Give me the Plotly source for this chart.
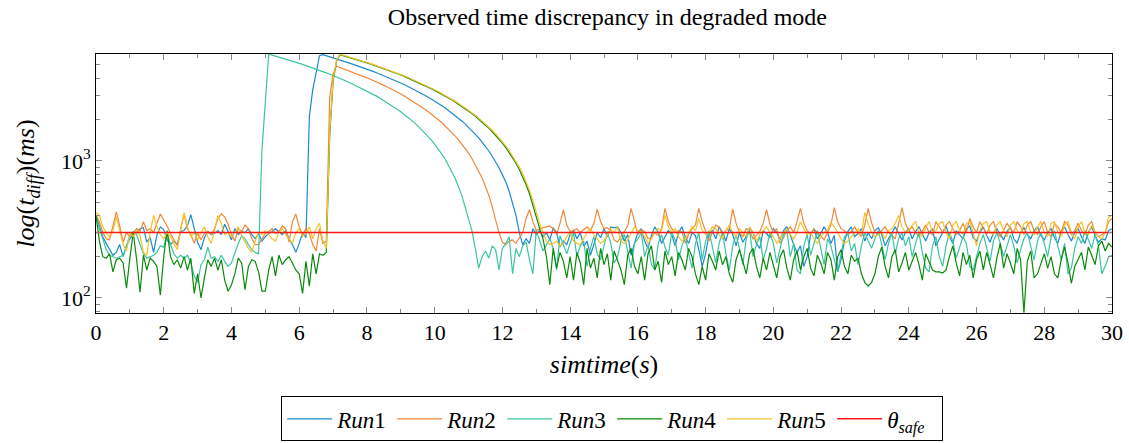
import plotly.graph_objects as go

time_s = [round(i * 0.1, 1) for i in range(301)]

run1 = [
    400, 330, 280, 250, 225, 205, 215, 245, 200, 240,
    270, 290, 300, 320, 325, 255, 275, 215, 290, 330,
    315, 265, 245, 260, 245, 305, 310, 335, 405, 315,
    255, 225, 275, 305, 290, 295, 310, 290, 345, 305,
    265, 320, 290, 305, 300, 320, 290, 270, 295, 260,
    280, 295, 305, 320, 305, 290, 310, 270, 245, 215,
    250, 300, 275, 2100, 3300, 4400, 5850, 5950, 5850, 5750,
    5650, 5550, 5450, 5350, 5250, 5150, 5050, 4950, 4860, 4760,
    4660, 4560, 4470, 4370, 4270, 4180, 4080, 3980, 3890, 3790,
    3690, 3600, 3500, 3400, 3310, 3210, 3110, 3020, 2920, 2820,
    2730, 2630, 2530, 2440, 2340, 2240, 2150, 2050, 1950, 1860,
    1760, 1660, 1570, 1470, 1370, 1280, 1180, 1080, 990, 890,
    790, 700, 600, 490, 400, 300, 245, 270, 250, 320,
    290, 310, 280, 300, 265, 325, 300, 235, 260, 245,
    290, 310, 270, 300, 240, 260, 205, 245, 300, 275,
    320, 280, 330, 325, 330, 300, 260, 290, 205, 250,
    300, 320, 260, 230, 285, 330, 300, 250, 280, 310,
    290, 240, 300, 330, 280, 250, 300, 285, 225, 170,
    210, 290, 310, 270, 330, 300, 260, 320, 290, 240,
    300, 255, 280, 325, 300, 250, 230, 310, 295, 275,
    320, 300, 265, 310, 330, 290, 245, 215, 240, 170,
    200, 290, 320, 270, 295, 330, 300, 250, 285, 155,
    190, 260, 305, 330, 280, 295, 320, 260, 300, 270,
    310, 325, 290, 240, 270, 300, 330, 295, 265, 300,
    320, 270, 305, 330, 290, 260, 300, 320, 240, 270,
    300, 335, 280, 250, 310, 290, 270, 320, 335, 275,
    260, 300, 330, 285, 255, 300, 320, 290, 265, 305,
    330, 270, 250, 300, 325, 290, 270, 310, 330, 285,
    265, 300, 320, 275, 250, 305, 330, 290, 260, 300,
    320, 280, 250, 300, 330, 285, 255, 270, 265, 310,
    320,
]

run2 = [
    405, 360, 300, 270, 265, 335, 425, 335, 255, 300,
    280, 300, 320, 305, 360, 310, 320, 300, 345, 410,
    370, 335, 295, 265, 240, 320, 410, 320, 290, 250,
    300, 265, 295, 305, 290, 320, 380, 410, 390, 345,
    290, 260, 320, 305, 340, 320, 270, 245, 245, 270,
    295, 305, 320, 295, 305, 335, 320, 255, 360, 410,
    330, 290, 320, 295, 245, 220, 320, 250, 260, 2900,
    4300, 4900, 4800, 4710, 4610, 4510, 4420, 4320, 4220, 4130,
    4030, 3930, 3840, 3740, 3650, 3550, 3450, 3360, 3260, 3160,
    3070, 2970, 2870, 2780, 2680, 2580, 2490, 2390, 2290, 2200,
    2100, 2000, 1910, 1810, 1720, 1620, 1520, 1430, 1330, 1230,
    1140, 1040, 940, 850, 750, 650, 560, 460, 370, 300,
    255, 245, 260, 265, 250, 275, 300, 380, 440, 360,
    310, 320, 325, 330, 335, 320, 290, 350, 440, 340,
    305, 310, 320, 300, 315, 330, 310, 350, 445, 360,
    320, 325, 310, 265, 255, 280, 310, 335, 450, 360,
    290, 315, 305, 270, 275, 300, 285, 320, 450, 360,
    320, 300, 310, 305, 250, 290, 320, 340, 450, 360,
    310, 260, 300, 340, 330, 290, 310, 320, 445, 350,
    300, 280, 320, 310, 270, 285, 305, 350, 440, 345,
    300, 320, 250, 275, 310, 330, 300, 360, 450, 350,
    310, 290, 320, 300, 285, 265, 300, 340, 455, 360,
    320, 310, 290, 305, 330, 300, 280, 340, 450, 355,
    300, 290, 310, 330, 300, 285, 270, 350, 455, 350,
    310, 330, 300, 280, 310, 340, 300, 290, 360, 330,
    300, 340, 360, 320, 290, 310, 350, 300, 380, 330,
    300, 360, 320, 290, 340, 360, 300, 280, 310, 350,
    320, 300, 360, 330, 290, 340, 360, 310, 290, 330,
    360, 300, 280, 350, 330, 300, 360, 340, 290, 310,
    350, 310, 290, 340, 360, 300, 280, 290, 300, 360,
    380,
]

run3 = [
    400, 320, 270, 225, 205, 200, 195, 200, 205, 240,
    290, 305, 290, 245, 210, 195, 200, 205, 215, 240,
    235, 300, 245, 210, 195, 205, 195, 205, 180, 145,
    130, 175, 190, 235, 195, 200, 185, 205, 185, 170,
    180, 215, 250, 285, 270, 245, 225, 215, 210, 1200,
    2900, 6000, 5905, 5810, 5710, 5620, 5520, 5430, 5330, 5240,
    5140, 5050, 4950, 4860, 4760, 4660, 4570, 4470, 4380, 4280,
    4190, 4090, 4000, 3900, 3800, 3710, 3610, 3520, 3420, 3330,
    3230, 3140, 3040, 2950, 2850, 2750, 2660, 2560, 2470, 2370,
    2280, 2180, 2090, 1990, 1900, 1800, 1700, 1610, 1510, 1420,
    1320, 1230, 1130, 1040, 940, 850, 750, 650, 560, 460,
    370, 310, 230, 165, 200, 220, 195, 240, 225, 160,
    230, 250, 280, 150, 230, 200, 240, 255, 190, 150,
    310, 260, 220, 245, 270, 230, 160, 285, 240, 210,
    250, 300, 200, 240, 260, 170, 230, 280, 210, 190,
    240, 305, 250, 180, 200, 260, 290, 215, 165, 250,
    270, 300, 200, 245, 175, 160, 250, 290, 235, 205,
    300, 265, 190, 240, 280, 210, 165, 250, 300, 190,
    260, 310, 230, 180, 250, 300, 210, 160, 240, 290,
    230, 175, 270, 310, 200, 245, 280, 190, 230, 300,
    250, 180, 230, 290, 310, 200, 250, 160, 150, 240,
    290, 205, 250, 310, 230, 175, 270, 240, 190, 155,
    210, 280, 300, 220, 250, 175, 240, 300, 260, 230,
    270, 310, 245, 190, 250, 300, 210, 270, 300, 240,
    280, 200, 250, 300, 215, 165, 155, 240, 280, 200,
    170, 240, 300, 260, 195, 230, 280, 250, 170, 160,
    200, 250, 290, 230, 185, 260, 300, 250, 200, 240,
    290, 240, 180, 225, 270, 300, 235, 190, 260, 300,
    250, 200, 275, 310, 240, 190, 250, 150, 165, 230,
    280, 250, 310, 270, 230, 290, 240, 150, 170, 200,
    205,
]

run4 = [
    400, 260, 200, 195, 210, 155, 190, 195, 180, 118,
    195, 300, 190, 110, 205, 160, 195, 185, 170, 105,
    200, 310, 200, 175, 190, 165, 200, 160, 195, 108,
    150, 100, 140, 190, 170, 195, 160, 190, 135, 112,
    125, 150, 195, 180, 115, 170, 190, 185, 155, 112,
    112, 160, 200, 145, 205, 175, 190, 200, 180, 160,
    150, 108, 185, 122, 210, 150, 210, 205, 215, 1500,
    3800, 5300, 5950, 5855, 5760, 5665, 5570, 5470, 5375, 5280,
    5185, 5090, 4990, 4895, 4800, 4705, 4610, 4510, 4415, 4320,
    4225, 4130, 4030, 3935, 3840, 3745, 3650, 3550, 3455, 3360,
    3265, 3170, 3070, 2975, 2880, 2785, 2690, 2590, 2495, 2400,
    2305, 2210, 2110, 2015, 1920, 1825, 1730, 1630, 1535, 1440,
    1345, 1250, 1150, 1055, 960, 865, 770, 670, 575, 480,
    390, 320, 270, 200, 125, 230, 165, 215, 185, 140,
    200, 135, 215, 180, 125, 230, 165, 195, 140, 230,
    175, 210, 135, 220, 190, 160, 125, 205, 230, 170,
    150, 200, 135, 210, 240, 160, 185, 130, 220, 175,
    200, 145, 215, 190, 160, 230, 200, 150, 125, 170,
    135, 210, 185, 160, 220, 175, 200, 150, 130, 190,
    225, 180, 150, 210, 230, 170, 140, 195, 160, 215,
    175, 140, 200, 225, 165, 135, 190, 220, 160, 200,
    230, 165, 145, 205, 180, 150, 215, 190, 135, 200,
    225, 170, 150, 205, 185, 195, 150, 130, 122, 130,
    150, 200, 235, 170, 140, 200, 225, 155, 180, 215,
    160, 185, 215, 175, 135, 210, 180, 160, 155, 155,
    152, 160, 200, 240, 180, 145, 215, 175, 205, 140,
    190, 220, 160, 215, 175, 140, 195, 250, 165, 210,
    180, 150, 230, 190, 78, 185, 220, 140, 150, 175,
    210, 165, 200, 150, 140, 190, 235, 180, 128, 170,
    190, 215, 160, 235, 205, 175, 240, 260, 220, 250,
    235,
]

run5 = [
    420, 400, 330, 300, 280, 310, 390, 300, 245, 220,
    300, 280, 310, 285, 215, 205, 300, 400, 330, 290,
    270, 300, 280, 250, 225, 310, 420, 330, 280, 300,
    265, 300, 330, 280, 250, 310, 400, 350, 290, 300,
    280, 300, 330, 285, 255, 230, 215, 260, 300, 290,
    310, 290, 270, 260, 300, 320, 290, 270, 250, 300,
    320, 280, 300, 330, 270, 320, 350, 260, 230, 1600,
    3900, 5350, 5990, 5890, 5795, 5700, 5605, 5510, 5410, 5315,
    5220, 5125, 5030, 4930, 4835, 4740, 4645, 4550, 4450, 4355,
    4260, 4165, 4070, 3970, 3875, 3780, 3685, 3590, 3490, 3395,
    3300, 3205, 3110, 3010, 2915, 2820, 2725, 2630, 2530, 2435,
    2340, 2245, 2150, 2050, 1955, 1860, 1765, 1670, 1570, 1475,
    1380, 1285, 1190, 1090, 995, 900, 805, 710, 610, 515,
    420, 350, 300, 260, 245, 250, 260, 240, 250, 280,
    300, 260, 250, 245, 270, 300, 320, 290, 270, 250,
    260, 290, 320, 300, 330, 260, 250, 265, 300, 330,
    310, 300, 280, 250, 270, 300, 320, 310, 400, 330,
    300, 320, 280, 260, 270, 300, 330, 310, 380, 310,
    290, 300, 330, 320, 290, 270, 310, 340, 300, 280,
    320, 300, 280, 330, 300, 260, 290, 310, 330, 300,
    280, 250, 270, 300, 320, 290, 270, 300, 360, 320,
    290, 300, 270, 250, 280, 300, 310, 360, 330, 300,
    270, 250, 260, 280, 300, 320, 290, 420, 350, 300,
    280, 290, 300, 270, 310, 320, 350, 400, 330, 300,
    310, 340, 360, 300, 280, 330, 360, 300, 310, 350,
    360, 300, 270, 340, 360, 310, 290, 350, 360, 300,
    240, 310, 350, 360, 300, 290, 340, 360, 310, 280,
    340, 360, 310, 290, 350, 360, 300, 290, 330, 360,
    300, 280, 350, 360, 300, 280, 340, 360, 300, 270,
    330, 360, 300, 290, 340, 300, 280, 270, 300, 390,
    400,
]

theta_safe = 300

x_ticks = list(range(0, 31, 2))
y_ticks = [100, 1000]
y_tick_text = ["10<sup>2</sup>", "10<sup>3</sup>"]
y_minor = [80, 90, 200, 300, 400, 500, 600, 700, 800, 900, 2000, 3000, 4000, 5000, 6000]

series = [
    ("<i>Run</i>1", run1, "#1a8ad0"),
    ("<i>Run</i>2", run2, "#f0883a"),
    ("<i>Run</i>3", run3, "#3cc4a2"),
    ("<i>Run</i>4", run4, "#0a8a0a"),
    ("<i>Run</i>5", run5, "#f5c22a"),
]

FONT = "Liberation Serif, Times New Roman, serif"
fig = go.Figure()
for name, vals, col in series:
    fig.add_trace(go.Scatter(x=time_s, y=vals, mode="lines", name=name,
                             line=dict(color=col, width=1.2)))
fig.add_trace(go.Scatter(x=[time_s[0], time_s[-1]], y=[theta_safe, theta_safe], mode="lines",
                         name="<i>θ</i><sub><i>safe</i></sub>",
                         line=dict(color="#ff1a1a", width=1.5)))

fig.update_layout(
    width=1129, height=443,
    margin=dict(l=96, r=17, t=54, b=130, autoexpand=False),
    paper_bgcolor="white", plot_bgcolor="white",
    font=dict(family=FONT, size=21, color="black"),
    title=dict(text="Observed time discrepancy in degraded mode", x=0.538, xanchor="center",
               y=0.962, yanchor="middle", font=dict(family=FONT, size=24)),
    showlegend=True,
    legend=dict(orientation="h", x=0.508, xanchor="center", y=-0.322, yanchor="top",
                bordercolor="black", borderwidth=1, font=dict(family=FONT, size=23),
                itemwidth=45, entrywidth=50, tracegroupgap=0, valign="middle"),
)
fig.update_xaxes(
    range=[0, 30], tickmode="array", tickvals=x_ticks, ticks="inside", ticklen=6,
    tickcolor="#888888", showline=True, linecolor="black", linewidth=1, mirror="ticks",
    showgrid=False, zeroline=False, tickfont=dict(family=FONT, size=22),
    minor=dict(ticks="inside", dtick=1, tick0=0, ticklen=4, tickcolor="#888888", showgrid=False),
    title=dict(text="<i>simtime</i>(<i>s</i>)", font=dict(family=FONT, size=26), standoff=10),
)
fig.update_yaxes(
    type="log", range=[1.8904, 3.779], tickmode="array", tickvals=y_ticks, ticktext=y_tick_text,
    ticks="inside", ticklen=6, tickcolor="#888888", showline=True, linecolor="black", linewidth=1,
    mirror="ticks", showgrid=False, zeroline=False, tickfont=dict(family=FONT, size=22),
    minor=dict(ticks="inside", tickmode="array", tickvals=y_minor, ticklen=4, tickcolor="#888888",
               showgrid=False),
    title=dict(text="<i>log</i>(<i>t</i><sub><i>diff</i></sub>)(<i>ms</i>)",
               font=dict(family=FONT, size=26), standoff=18),
)

fig.write_html("out.html")
